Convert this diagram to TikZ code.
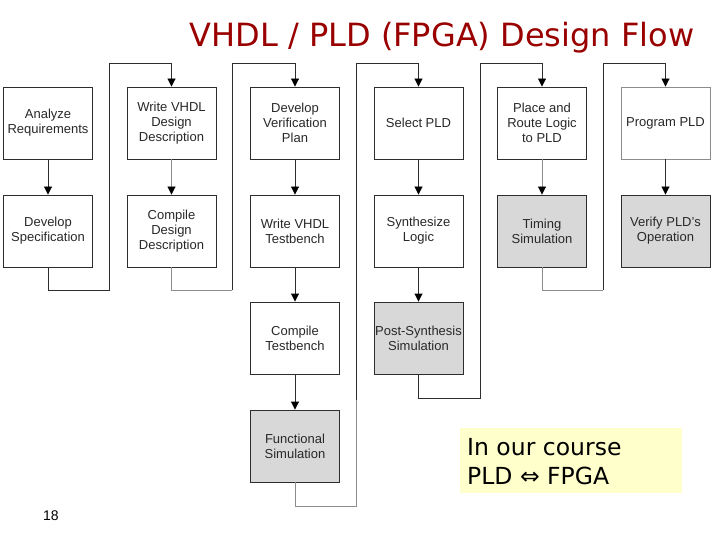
\documentclass[tikz,border=0pt]{standalone}
\usepackage{fontspec}
\setmainfont{Liberation Sans}
\newfontfamily\titlefont{DejaVu Sans}
\newfontfamily\notefont{DejaVu Sans}
\usetikzlibrary{arrows.meta}
\definecolor{titlered}{RGB}{153,0,0}
\definecolor{simgray}{RGB}{216,216,216}
\definecolor{noteyellow}{RGB}{255,255,204}
\definecolor{boxtext}{RGB}{40,40,40}
\definecolor{linegray}{RGB}{45,45,45}
\definecolor{lightline}{RGB}{140,140,140}
\begin{document}
\begin{tikzpicture}[x=1pt,y=-1pt,
  flowbox/.style={draw=linegray,line width=0.9pt,fill=white,minimum width=89pt,minimum height=72pt,
    inner sep=0pt,align=center,text=boxtext,font=\fontsize{13}{15}\selectfont},
  simbox/.style={flowbox,fill=simgray},
  conn/.style={draw=linegray,line width=0.9pt},
  lconn/.style={draw=lightline,line width=0.9pt},
  tip/.style={-{Triangle[width=8pt,length=8pt,color=black]}}]
\useasboundingbox (0,0) rectangle (720,540);
% title
\node[anchor=base,text=titlered,font=\titlefont\fontsize{32}{36}\selectfont] (title) at (442,47) {VHDL / PLD (FPGA) Design Flow};
% boxes
\node[flowbox] (ar) at (48,123) {Analyze\\Requirements};
\node[flowbox] (ds) at (48,231) {Develop\\Specification};
\node[flowbox] (wvd) at (171.5,123) {Write VHDL\\Design\\Description};
\node[flowbox] (cdd) at (171.5,231) {Compile\\Design\\Description};
\node[flowbox] (dvp) at (295,123) {Develop\\Verification\\Plan};
\node[flowbox] (wvt) at (295,231) {Write VHDL\\Testbench};
\node[flowbox] (ct) at (295,338) {Compile\\Testbench};
\node[simbox] (fs) at (295,446) {Functional\\Simulation};
\node[flowbox] (sp) at (418.5,123) {Select PLD};
\node[flowbox] (sl) at (418.5,231) {Synthesize\\Logic};
\node[simbox] (pss) at (418.5,338) {Post-Synthesis\\Simulation};
\node[flowbox] (pr) at (542,123) {Place and\\Route Logic\\to PLD};
\node[simbox] (ts) at (542,231) {Timing\\Simulation};
\node[flowbox,draw=lightline] (pp) at (665.5,123) {Program PLD};
\node[simbox] (vo) at (665.5,231) {Verify PLD's\\Operation};
% vertical arrows
\draw[conn,tip] (ar) -- (ds);
\draw[lconn,tip] (wvd) -- (cdd);
\draw[conn,tip] (dvp) -- (wvt);
\draw[conn,tip] (wvt) -- (ct);
\draw[conn,tip] (ct) -- (fs);
\draw[conn,tip] (sp) -- (sl);
\draw[conn,tip] (sl) -- (pss);
\draw[lconn,tip] (pr) -- (ts);
\draw[conn,tip] (pp) -- (vo);
% loop connectors
\draw[conn,tip] (ds.south) -- (ds.south |- 0,290) -- (109,290) -- (109,63) -- (wvd.north |- 0,63) -- (wvd.north);
\draw[lconn] (cdd.south) -- (cdd.south |- 0,290) -- (232,290);
\draw[conn,tip] (232,290) -- (232,63) -- (dvp.north |- 0,63) -- (dvp.north);
\draw[lconn] (fs.south) -- (fs.south |- 0,506) -- (356,506) -- (356,400);
\draw[conn,tip] (356,400) -- (356,63) -- (sp.north |- 0,63) -- (sp.north);
\draw[conn,tip] (pss.south) -- (pss.south |- 0,398) -- (480,398) -- (480,63) -- (pr.north |- 0,63) -- (pr.north);
\draw[lconn] (ts.south) -- (ts.south |- 0,290) -- (603,290);
\draw[conn,tip] (603,290) -- (603,63) -- (pp.north |- 0,63) -- (pp.north);
% note
\node[fill=noteyellow,minimum width=222pt,minimum height=65pt,inner sep=0pt] (note) at (571,460.5) {};
\node[anchor=base west,font=\notefont\fontsize{23.5}{29}\selectfont,inner sep=0pt] (n1) at (467,455) {In our course};
\node[anchor=base west,font=\notefont\fontsize{23.5}{29}\selectfont,inner sep=0pt] (n2) at (467,484) {PLD ⇔ FPGA};
% page number
\node[anchor=base west,font=\fontsize{14}{16}\selectfont,inner sep=0pt] (pg) at (43,520) {18};
\end{tikzpicture}
\end{document}
